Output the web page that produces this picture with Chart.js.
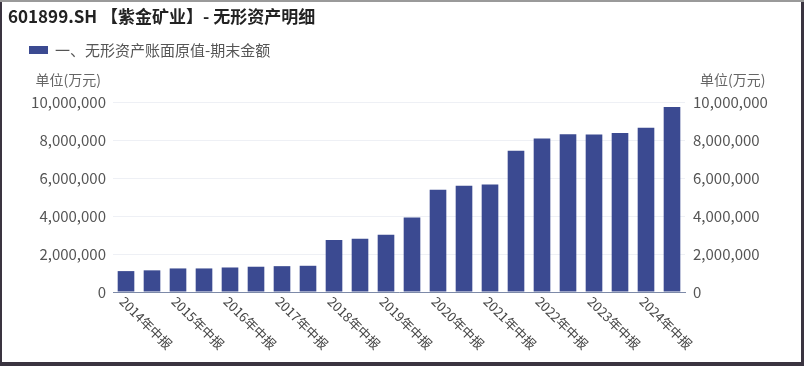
<!DOCTYPE html>
<html>
<head>
<meta charset="utf-8">
<script src="https://cdn.jsdelivr.net/npm/chart.js@4"></script>
<style>
  html, body { margin: 0; padding: 0; background: #fff; }
  #wrap { width: 804px; height: 366px; position: relative; }
</style>
</head>
<body>
<div id="wrap"><canvas id="chart"></canvas></div>
<script>
const years = ['2014','2015','2016','2017','2018','2019','2020','2021','2022','2023','2024']
const periods = []
years.forEach(y => { periods.push(y + '年中报'); periods.push(y + '年年报') })
const amounts = [1100000, 1140000, 1240000, 1240000, 1290000, 1330000, 1360000, 1380000,
  2740000, 2800000, 3010000, 3920000, 5380000, 5590000, 5660000, 7430000,
  8080000, 8300000, 8290000, 8370000, 8640000, 9740000]
const yTicks = [0, 2000000, 4000000, 6000000, 8000000, 10000000]

const FONT = '"Noto Sans CJK SC", "Noto Sans", sans-serif'
const barColor = '#3b4a91'

const fmt = v => v.toLocaleString('en-US')

const decor = {
  id: 'decor',
  afterDraw(chart) {
    const ctx = chart.ctx
    const area = chart.chartArea
    const xs = chart.scales.x
    ctx.save()
    // title
    ctx.fillStyle = '#222'
    ctx.font = 'bold 17px ' + FONT
    ctx.textBaseline = 'middle'
    ctx.textAlign = 'left'
    ctx.fillText('601899.SH 【紫金矿业】- 无形资产明细', 8, 17)
    // legend
    ctx.fillStyle = barColor
    ctx.fillRect(29, 46, 19, 8)
    ctx.fillStyle = '#555'
    ctx.font = '15px ' + FONT
    ctx.fillText('一、无形资产账面原值-期末金额', 55, 50)
    // unit labels
    ctx.font = '14px ' + FONT
    ctx.fillStyle = '#666'
    ctx.textAlign = 'right'
    ctx.fillText('单位(万元)', 101, 80)
    ctx.textAlign = 'left'
    ctx.fillText('单位(万元)', 700, 80)
    // x labels, every other period
    ctx.font = '13px ' + FONT
    ctx.fillStyle = '#444'
    for (let i = 0; i < periods.length; i += 2) {
      const x = xs.getPixelForValue(i)
      ctx.save()
      ctx.translate(x - 4, area.bottom + 7)
      ctx.rotate(Math.PI / 4)
      ctx.textAlign = 'left'
      ctx.textBaseline = 'middle'
      ctx.fillText(periods[i], 0, 0)
      ctx.restore()
    }
    // frame
    ctx.fillStyle = '#3a3440'
    ctx.fillRect(0, 0, 2, 366)
    ctx.fillRect(801, 0, 3, 366)
    ctx.fillRect(0, 362, 804, 4)
    ctx.fillStyle = '#9a9a9a'
    ctx.fillRect(0, 0, 804, 2)
    ctx.restore()
  }
}

new Chart(document.getElementById('chart'), {
  type: 'bar',
  data: {
    labels: periods,
    datasets: [{
      label: '一、无形资产账面原值-期末金额',
      data: amounts,
      backgroundColor: barColor,
      barPercentage: 0.64,
      categoryPercentage: 1.0,
      yAxisID: 'y'
    }]
  },
  options: {
    responsive: true,
    maintainAspectRatio: false,
    animation: false,
    layout: { padding: { top: 102, bottom: 74, left: 0, right: 0 } },
    plugins: { legend: { display: false }, tooltip: { enabled: false } },
    scales: {
      x: {
        offset: true,
        grid: { display: false, drawTicks: false },
        border: { display: true, color: '#7d8aa8', width: 1 },
        ticks: { display: false }
      },
      y: {
        position: 'left',
        min: 0, max: 10000000,
        afterFit: s => { s.width = 113 },
        afterBuildTicks: s => { s.ticks = yTicks.map(v => ({ value: v })) },
        grid: { color: '#eef0f5', drawTicks: false },
        border: { display: false },
        ticks: { color: '#555', padding: 7, font: { size: 15, family: FONT }, callback: v => fmt(v) }
      },
      y2: {
        position: 'right',
        min: 0, max: 10000000,
        afterFit: s => { s.width = 119 },
        afterBuildTicks: s => { s.ticks = yTicks.map(v => ({ value: v })) },
        grid: { display: false, drawTicks: false },
        border: { display: false },
        ticks: { color: '#555', padding: 8, font: { size: 15, family: FONT }, callback: v => fmt(v) }
      }
    }
  },
  plugins: [decor]
})
</script>
</body>
</html>
